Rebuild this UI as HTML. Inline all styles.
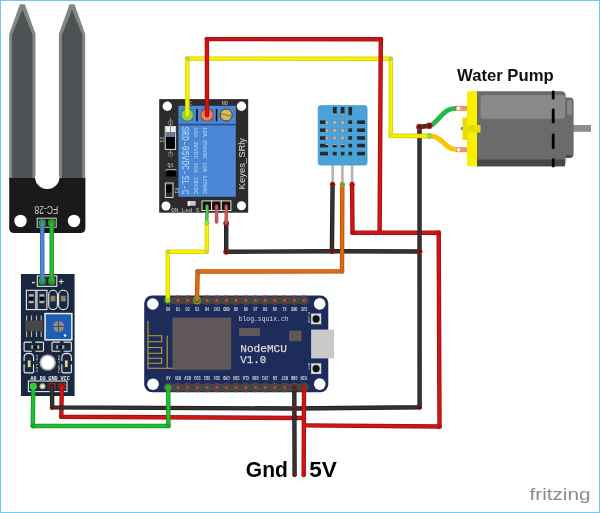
<!DOCTYPE html>
<html><head><meta charset="utf-8">
<style>
html,body{margin:0;padding:0;background:#fff;}
body{width:600px;height:513px;overflow:hidden;position:relative;}
svg{position:absolute;left:0;top:0;display:block;will-change:transform;}
text{font-family:"Liberation Sans",sans-serif;}
.mono,.mono text{font-family:"Liberation Mono",monospace;}
</style></head>
<body>
<svg width="600" height="513" viewBox="0 0 600 513">
<rect x="0" y="0" width="600" height="513" fill="#fff"/>

<!-- ===== Soil moisture probe FC-28 ===== -->
<g id="probe">
  <polygon points="9.2,180 9.2,34 19.9,4.2 24.9,4.2 35.5,34 35.5,180" fill="#7f8780"/>
  <polygon points="12,180 12,35 22.4,9.5 32.5,35 32.5,180" fill="#4d5355"/>
  <polygon points="58.9,180 58.9,34 69.5,4.2 74.5,4.2 85.2,34 85.2,180" fill="#7f8780"/>
  <polygon points="62,180 62,35 72,9.5 82.2,35 82.2,180" fill="#4d5355"/>
  <path d="M9.2,178 H85.4 V228 Q85.4,233 80.4,233 H14.2 Q9.2,233 9.2,228 Z" fill="#1a1a1a"/>
  <path d="M35,176 V177 A12.25,12 0 0 0 59.5,177 V176 Z" fill="#fff"/>
  <circle cx="20.5" cy="221" r="6.2" fill="#fff"/>
  <circle cx="74" cy="221" r="6.2" fill="#fff"/>
  <rect x="37.2" y="218.2" width="19" height="9" fill="none" stroke="#d8d8d8" stroke-width="1"/>
  <text x="46.35" y="213" font-size="10" fill="#d0d0d0" text-anchor="middle" textLength="23.8" lengthAdjust="spacingAndGlyphs" transform="rotate(180 46.35 209.4)">FC-28</text>
</g>


<!-- ===== Sensor module ===== -->
<g id="module">
  <rect x="20.9" y="274" width="53.7" height="122" fill="#19283f"/>
  <rect x="37.3" y="275.9" width="19.5" height="10.4" fill="none" stroke="#e8e8e8" stroke-width="1.1"/>
  <text x="33.4" y="284.5" font-size="10" fill="#e8e8e8" text-anchor="middle" font-weight="bold">-</text>
  <text x="61.2" y="284.8" font-size="9.5" fill="#e8e8e8" text-anchor="middle" font-weight="bold">+</text>
  <g fill="none" stroke="#e8e8e8" stroke-width="1.1">
    <rect x="26.4" y="290.3" width="9.4" height="19.3"/>
    <rect x="37" y="290.3" width="9.9" height="19.3"/>
    <rect x="48.7" y="290.3" width="8.7" height="19.3" rx="4.3"/>
    <rect x="58.6" y="290.3" width="9.4" height="19.3" rx="4.5"/>
  </g>
  <rect x="28.8" y="294.2" width="5" height="9" fill="#b0b0b0"/>
  <rect x="28.8" y="296.7" width="5" height="4" fill="#000"/>
  <rect x="39.4" y="294.2" width="5" height="9" fill="#b0b0b0"/>
  <rect x="39.4" y="296.7" width="5" height="4" fill="#000"/>
  <rect x="50.4" y="295.8" width="5" height="5.6" fill="#8e8060"/>
  <rect x="60.8" y="295.8" width="5" height="5.6" fill="#8e8060"/>
  <g stroke="#b8b8b8" stroke-width="1.1">
    <path d="M26.6,315.4 V320.7 M31.5,315.4 V320.7 M36.5,315.4 V320.7 M41.2,315.4 V320.7 M26.6,331.2 V337 M31.5,331.2 V337 M36.5,331.2 V337 M41.2,331.2 V337"/>
  </g>
  <rect x="25.3" y="320.7" width="17.5" height="10.5" fill="#474747"/>
  <rect x="44.3" y="312.8" width="28.3" height="27.8" fill="#f0f0f0"/>
  <rect x="45.8" y="314.3" width="25.3" height="24.8" fill="#1f5cb4"/>
  <circle cx="58.6" cy="326.5" r="5.6" fill="#8c8c8c"/>
  <path d="M53,326.5 H64.2 M58.6,320.9 V332.1" stroke="#4a4a4a" stroke-width="1"/>
  <circle cx="65" cy="335.5" r="1.2" fill="#fff"/>
  <g fill="none" stroke="#e8e8e8" stroke-width="1.1">
    <path d="M31.9,342.1 H25.1 Q24.1,342.1 24.1,343.1 V350.3 Q24.1,351.3 25.1,351.3 H31.9"/>
    <path d="M35.4,342.1 H42.5 Q43.5,342.1 43.5,343.1 V350.3 Q43.5,351.3 42.5,351.3 H35.4"/>
    <path d="M63.6,342.1 H70.4 Q71.4,342.1 71.4,343.1 V350.3 Q71.4,351.3 70.4,351.3 H63.6"/>
    <path d="M60.1,342.1 H53 Q52,342.1 52,343.1 V350.3 Q52,351.3 53,351.3 H60.1"/>
    <path d="M24.1,361.1 V357.4 Q24.1,353.4 28.85,353.4 Q33.6,353.4 33.6,357.4 V361.1"/>
    <path d="M24.1,364.3 V371.6 Q24.1,372.9 25.4,372.9 H32.3 Q33.6,372.9 33.6,371.6 V364.3"/>
    <path d="M61.9,361.1 V357.4 Q61.9,353.4 66.65,353.4 Q71.4,353.4 71.4,357.4 V361.1"/>
    <path d="M61.9,364.3 V371.6 Q61.9,372.9 63.2,372.9 H70.1 Q71.4,372.9 71.4,371.6 V364.3"/>
  </g>
  <rect x="31.2" y="345.3" width="8.1" height="3.5" fill="#a8a8a8"/>
  <rect x="33.3" y="345.3" width="3.8" height="3.5" fill="#000"/>
  <rect x="56.2" y="345.3" width="8.1" height="3.5" fill="#a8a8a8"/>
  <rect x="58.3" y="345.3" width="3.8" height="3.5" fill="#000"/>
  <rect x="27.8" y="360.4" width="2.8" height="6.7" fill="#e0d49a"/>
  <rect x="64.9" y="360.4" width="2.8" height="6.7" fill="#e0d49a"/>
  <text transform="translate(35.8,354.5) rotate(90)" font-size="4.2" fill="#c8c8d0" class="mono" textLength="18" lengthAdjust="spacingAndGlyphs">D0-LED</text>
  <text transform="translate(59.8,373) rotate(-90)" font-size="4.2" fill="#c8c8d0" class="mono" textLength="18" lengthAdjust="spacingAndGlyphs">PWR-LED</text>
  <circle cx="47.7" cy="362.6" r="8.2" fill="#b4b4b4"/>
  <circle cx="47.7" cy="362.6" r="6.5" fill="#fff"/>
  <g font-size="5" fill="#f0f0f0" text-anchor="middle" class="mono" font-weight="bold">
    <text x="33.5" y="379.6" textLength="6" lengthAdjust="spacingAndGlyphs">A0</text>
    <text x="42.8" y="379.6" textLength="6" lengthAdjust="spacingAndGlyphs">D0</text>
    <text x="53" y="379.6" textLength="9.5" lengthAdjust="spacingAndGlyphs">GND</text>
    <text x="65.2" y="379.6" textLength="9.5" lengthAdjust="spacingAndGlyphs">VCC</text>
  </g>
  <rect x="28.4" y="381" width="38.6" height="10.6" fill="none" stroke="#e8e8e8" stroke-width="1.1"/>
  <rect x="30" y="383.2" width="6.5" height="6" rx="1.2" fill="#30c040"/>
  <circle cx="42.5" cy="386.3" r="3" fill="#c8b070"/>
  <circle cx="42.5" cy="386.3" r="1.5" fill="#fff"/>
  <rect x="48.9" y="383.2" width="6.6" height="6" rx="1.2" fill="#d03020"/>
  <rect x="58.6" y="383.2" width="6.8" height="6" rx="1.2" fill="#d03020"/>
  <circle cx="52.2" cy="386.3" r="2.6" fill="none" stroke="#801010" stroke-width="1"/>
  <circle cx="62" cy="386.3" r="2.6" fill="none" stroke="#801010" stroke-width="1"/>
</g>


<!-- ===== Relay ===== -->
<g id="relay">
  <rect x="159.2" y="99.1" width="89" height="113.6" fill="#2c2c2c"/>
  <circle cx="167.3" cy="106.2" r="4.7" fill="#fff"/>
  <circle cx="241.5" cy="106.3" r="4.7" fill="#fff"/>
  <circle cx="166" cy="206" r="4.5" fill="#fff"/>
  <circle cx="241.5" cy="205.8" r="4.5" fill="#fff"/>
  <rect x="178.4" y="105.8" width="57.4" height="91" fill="#4a88d6"/>
  <rect x="178.4" y="123.8" width="57.4" height="1.6" fill="#2a4e86"/>
  <rect x="181.8" y="109.5" width="11" height="11" fill="#2a8a3a"/>
  <circle cx="187.3" cy="115" r="6.1" fill="#90d050" stroke="#3c6a2c" stroke-width="0.6"/>
  <rect x="201.5" y="109.5" width="11" height="11" fill="#a83040"/>
  <circle cx="207" cy="115" r="6.1" fill="#f08050" stroke="#8a3020" stroke-width="0.6"/>
  <circle cx="226.2" cy="115" r="6" fill="#d8b860" stroke="#3a3020" stroke-width="0.9"/>
  <path d="M220.8,113.6 L231.6,116.2" stroke="#a08030" stroke-width="1.4"/>
  <rect x="196.2" y="109" width="1.5" height="12.3" fill="#000"/>
  <rect x="215.8" y="109" width="1.5" height="12.3" fill="#000"/>
  <text x="224.8" y="104.6" font-size="5.2" fill="#c8c8c8" text-anchor="middle" class="mono">NO</text>
  <text x="190.5" y="104.6" font-size="5.2" fill="#c8c8c8" text-anchor="middle" class="mono">C</text>
  <g fill="#c4d8f4" class="mono">
    <text transform="translate(181,126.2) rotate(90)" font-size="10" textLength="68.5" lengthAdjust="spacingAndGlyphs" y="0" x="0" dy="-0.5">SRD-05VDC-SL-C</text>
  </g>
  <g fill="#c8dcf4" class="mono" font-size="6">
    <text transform="translate(193.6,127) rotate(90)" textLength="67.5" lengthAdjust="spacingAndGlyphs">10A  30VDC  10A  28VDC</text>
    <text transform="translate(203,127) rotate(90)" textLength="67.5" lengthAdjust="spacingAndGlyphs">10A 250VAC 10A 125VAC</text>
  </g>
  <text transform="translate(245.2,189.4) rotate(-90)" font-size="9.6" fill="#d8d8d8" textLength="51.5" lengthAdjust="spacingAndGlyphs">Keyes_SRly</text>
  <rect x="165.2" y="126.5" width="10.4" height="23" fill="none" stroke="#d8d8d8" stroke-width="1"/>
  <rect x="165.7" y="127" width="9.4" height="5.5" fill="#f0f0f0"/><rect x="170" y="127" width="1" height="5.5" fill="#888"/><rect x="166" y="132" width="8.8" height="16.5" fill="#000"/>
  <rect x="166" y="132" width="8.8" height="5" fill="#6a7898"/>
  <circle cx="170.5" cy="122.8" r="2.3" fill="none" stroke="#888" stroke-width="0.8"/>
  <circle cx="170.5" cy="154.3" r="2.3" fill="none" stroke="#888" stroke-width="0.8"/>
  <rect x="170" y="118" width="1" height="8.5" fill="#888"/>
  <rect x="170" y="149.5" width="1" height="5" fill="#888"/>
  <text transform="translate(160.3,136.5) rotate(90)" font-size="5" fill="#c8c8c8" class="mono">D1</text>
  <text x="170.5" y="166.5" font-size="5" fill="#c8c8c8" text-anchor="middle" class="mono">Q1</text>
  <rect x="166" y="171" width="10" height="5.5" fill="#000"/>
  <path d="M166,171 v-1.5 h10 v1.5" fill="none" stroke="#ccc" stroke-width="0.7"/>
  <rect x="165.3" y="183" width="7.7" height="14.5" fill="none" stroke="#d8d8d8" stroke-width="1"/>
  <rect x="166.5" y="185" width="5.3" height="7.5" fill="#000"/>
  <text transform="translate(175,188) rotate(90)" font-size="4.5" fill="#c8c8c8" class="mono">R1</text>
  <rect x="187.7" y="201" width="8" height="4.7" fill="#c8c8c8"/>
  <rect x="187.7" y="201" width="2.5" height="4.7" fill="#eee"/>
  <text x="171.3" y="211.6" font-size="6" fill="#c8c8c8" class="mono" textLength="28" lengthAdjust="spacingAndGlyphs">ON_Led S</text>
  <g fill="#111" stroke="#e8e8e8" stroke-width="1">
    <rect x="202" y="200.9" width="9.6" height="9.6"/>
    <rect x="211.6" y="200.9" width="9.6" height="9.6"/>
    <rect x="221.3" y="200.9" width="9.6" height="9.6"/>
  </g>
</g>

<!-- ===== DHT11 ===== -->
<g id="dht">
  <rect x="331.4" y="164" width="2.6" height="21" fill="#b4b4b4"/>
  <rect x="341.1" y="164" width="2.6" height="21" fill="#b4b4b4"/>
  <rect x="350.8" y="164" width="2.6" height="21" fill="#b4b4b4"/>
  <rect x="318.2" y="105.6" width="48.9" height="59.5" rx="2.5" fill="#49a3d9" stroke="#3a88b8" stroke-width="0.6"/>
  <g fill="#2a2a2a">
    <rect x="333" y="107" width="3.7" height="8.2"/><rect x="340.8" y="107" width="3.7" height="8.2"/><rect x="348.4" y="107" width="3.7" height="8.2"/>
  </g>
  <g fill="#2a2a2a" id="dhtrows">
    <rect x="320" y="120.4" width="8" height="3.6"/><rect x="332.8" y="120.4" width="3.9" height="3.6"/><rect x="340.8" y="120.4" width="3.7" height="3.6"/><rect x="348.4" y="120.4" width="3.7" height="3.6"/><rect x="357" y="120.4" width="8" height="3.6"/>
    <rect x="320" y="128.4" width="8" height="3.6"/><rect x="332.8" y="128.4" width="3.9" height="3.6"/><rect x="340.8" y="128.4" width="3.7" height="3.6"/><rect x="348.4" y="128.4" width="3.7" height="3.6"/><rect x="357" y="128.4" width="8" height="3.6"/>
    <rect x="320" y="136.2" width="8" height="3.6"/><rect x="332.8" y="136.2" width="3.9" height="3.6"/><rect x="340.8" y="136.2" width="3.7" height="3.6"/><rect x="348.4" y="136.2" width="3.7" height="3.6"/><rect x="357" y="136.2" width="8" height="3.6"/>
    <rect x="320" y="143.8" width="8" height="3.6"/><rect x="332.8" y="143.8" width="3.9" height="3.6"/><rect x="340.8" y="143.8" width="3.7" height="3.6"/><rect x="348.4" y="143.8" width="3.7" height="3.6"/><rect x="357" y="143.8" width="8" height="3.6"/>
    <rect x="320" y="151.8" width="8" height="3.6"/><rect x="332.8" y="151.8" width="3.9" height="3.6"/><rect x="340.8" y="151.8" width="3.7" height="3.6"/><rect x="348.4" y="151.8" width="3.7" height="3.6"/><rect x="357" y="151.8" width="8" height="3.6"/>
  </g>
  <g fill="#b0b0b0">
    <rect x="325.5" y="120.4" width="2.5" height="3.6"/><rect x="332.8" y="120.4" width="3.9" height="3.6"/><rect x="340.8" y="120.4" width="3.7" height="3.6"/>
    <rect x="325.5" y="128.4" width="2.5" height="3.6"/><rect x="332.8" y="128.4" width="3.9" height="3.6"/><rect x="340.8" y="128.4" width="3.7" height="3.6"/>
    <rect x="325.5" y="136.2" width="2.5" height="3.6"/><rect x="332.8" y="136.2" width="3.9" height="3.6"/><rect x="340.8" y="136.2" width="3.7" height="3.6"/>
    <rect x="325.5" y="143.8" width="2.5" height="1.2"/><rect x="332.8" y="143.8" width="3.9" height="1.2"/><rect x="340.8" y="143.8" width="3.7" height="1.2"/>
    <rect x="333" y="113.6" width="3.7" height="1.6"/><rect x="340.8" y="113.6" width="3.7" height="1.6"/>
  </g>
</g>


<!-- ===== NodeMCU ===== -->
<g id="nodemcu">
  <rect x="144.2" y="295.5" width="184.1" height="96.8" rx="8" fill="#1d2c5b"/>
  <circle cx="152.8" cy="304" r="5.8" fill="#fff"/>
  <circle cx="153" cy="384.2" r="5.8" fill="#fff"/>
  <circle cx="319.7" cy="303.9" r="5.8" fill="#fff"/>
  <circle cx="319.7" cy="384.1" r="5.8" fill="#fff"/>
  <g fill="#474747"><rect x="166.30" y="296.79999999999995" width="139.66" height="7.2" fill="#474747"/><circle cx="168.30" cy="300.4" r="4.8"/><circle cx="177.99" cy="300.4" r="4.8"/><circle cx="187.68" cy="300.4" r="4.8"/><circle cx="197.37" cy="300.4" r="4.8"/><circle cx="207.06" cy="300.4" r="4.8"/><circle cx="216.75" cy="300.4" r="4.8"/><circle cx="226.44" cy="300.4" r="4.8"/><circle cx="236.13" cy="300.4" r="4.8"/><circle cx="245.82" cy="300.4" r="4.8"/><circle cx="255.51" cy="300.4" r="4.8"/><circle cx="265.20" cy="300.4" r="4.8"/><circle cx="274.89" cy="300.4" r="4.8"/><circle cx="284.58" cy="300.4" r="4.8"/><circle cx="294.27" cy="300.4" r="4.8"/><circle cx="303.96" cy="300.4" r="4.8"/><rect x="166.30" y="383.9" width="139.66" height="7.2" fill="#474747"/><circle cx="168.30" cy="387.5" r="4.8"/><circle cx="177.99" cy="387.5" r="4.8"/><circle cx="187.68" cy="387.5" r="4.8"/><circle cx="197.37" cy="387.5" r="4.8"/><circle cx="207.06" cy="387.5" r="4.8"/><circle cx="216.75" cy="387.5" r="4.8"/><circle cx="226.44" cy="387.5" r="4.8"/><circle cx="236.13" cy="387.5" r="4.8"/><circle cx="245.82" cy="387.5" r="4.8"/><circle cx="255.51" cy="387.5" r="4.8"/><circle cx="265.20" cy="387.5" r="4.8"/><circle cx="274.89" cy="387.5" r="4.8"/><circle cx="284.58" cy="387.5" r="4.8"/><circle cx="294.27" cy="387.5" r="4.8"/><circle cx="303.96" cy="387.5" r="4.8"/></g>
  <g fill="#e8401e"><rect x="167.00" y="299.09999999999997" width="2.6" height="2.6" rx="0.5"/><rect x="176.69" y="299.09999999999997" width="2.6" height="2.6" rx="0.5"/><rect x="186.38" y="299.09999999999997" width="2.6" height="2.6" rx="0.5"/><rect x="196.07" y="299.09999999999997" width="2.6" height="2.6" rx="0.5"/><rect x="205.76" y="299.09999999999997" width="2.6" height="2.6" rx="0.5"/><rect x="215.45" y="299.09999999999997" width="2.6" height="2.6" rx="0.5"/><rect x="225.14" y="299.09999999999997" width="2.6" height="2.6" rx="0.5"/><rect x="234.83" y="299.09999999999997" width="2.6" height="2.6" rx="0.5"/><rect x="244.52" y="299.09999999999997" width="2.6" height="2.6" rx="0.5"/><rect x="254.21" y="299.09999999999997" width="2.6" height="2.6" rx="0.5"/><rect x="263.90" y="299.09999999999997" width="2.6" height="2.6" rx="0.5"/><rect x="273.59" y="299.09999999999997" width="2.6" height="2.6" rx="0.5"/><rect x="283.28" y="299.09999999999997" width="2.6" height="2.6" rx="0.5"/><rect x="292.97" y="299.09999999999997" width="2.6" height="2.6" rx="0.5"/><rect x="302.66" y="299.09999999999997" width="2.6" height="2.6" rx="0.5"/><rect x="167.00" y="386.2" width="2.6" height="2.6" rx="0.5"/><rect x="176.69" y="386.2" width="2.6" height="2.6" rx="0.5"/><rect x="186.38" y="386.2" width="2.6" height="2.6" rx="0.5"/><rect x="196.07" y="386.2" width="2.6" height="2.6" rx="0.5"/><rect x="205.76" y="386.2" width="2.6" height="2.6" rx="0.5"/><rect x="215.45" y="386.2" width="2.6" height="2.6" rx="0.5"/><rect x="225.14" y="386.2" width="2.6" height="2.6" rx="0.5"/><rect x="234.83" y="386.2" width="2.6" height="2.6" rx="0.5"/><rect x="244.52" y="386.2" width="2.6" height="2.6" rx="0.5"/><rect x="254.21" y="386.2" width="2.6" height="2.6" rx="0.5"/><rect x="263.90" y="386.2" width="2.6" height="2.6" rx="0.5"/><rect x="273.59" y="386.2" width="2.6" height="2.6" rx="0.5"/><rect x="283.28" y="386.2" width="2.6" height="2.6" rx="0.5"/><rect x="292.97" y="386.2" width="2.6" height="2.6" rx="0.5"/><rect x="302.66" y="386.2" width="2.6" height="2.6" rx="0.5"/></g>
  <g fill="#d0d2e0" font-size="4.6" text-anchor="middle" class="mono" font-weight="bold"><text x="168.30" y="310.8" textLength="4.2" lengthAdjust="spacingAndGlyphs">D0</text><text x="177.99" y="310.8" textLength="4.2" lengthAdjust="spacingAndGlyphs">D1</text><text x="187.68" y="310.8" textLength="4.2" lengthAdjust="spacingAndGlyphs">D2</text><text x="197.37" y="310.8" textLength="4.2" lengthAdjust="spacingAndGlyphs">D3</text><text x="207.06" y="310.8" textLength="4.2" lengthAdjust="spacingAndGlyphs">D4</text><text x="216.75" y="310.8" textLength="6.6" lengthAdjust="spacingAndGlyphs">3V3</text><text x="226.44" y="310.8" textLength="6.6" lengthAdjust="spacingAndGlyphs">GND</text><text x="236.13" y="310.8" textLength="4.2" lengthAdjust="spacingAndGlyphs">D5</text><text x="245.82" y="310.8" textLength="4.2" lengthAdjust="spacingAndGlyphs">D6</text><text x="255.51" y="310.8" textLength="4.2" lengthAdjust="spacingAndGlyphs">D7</text><text x="265.20" y="310.8" textLength="4.2" lengthAdjust="spacingAndGlyphs">D8</text><text x="274.89" y="310.8" textLength="4.2" lengthAdjust="spacingAndGlyphs">RX</text><text x="284.58" y="310.8" textLength="4.2" lengthAdjust="spacingAndGlyphs">TX</text><text x="294.27" y="310.8" textLength="6.6" lengthAdjust="spacingAndGlyphs">GND</text><text x="303.96" y="310.8" textLength="6.6" lengthAdjust="spacingAndGlyphs">3V3</text><text transform="rotate(180 168.30 378.3)" x="168.30" y="380.4" textLength="4.2" lengthAdjust="spacingAndGlyphs">A0</text><text transform="rotate(180 177.99 378.3)" x="177.99" y="380.4" textLength="6.6" lengthAdjust="spacingAndGlyphs">RSV</text><text transform="rotate(180 187.68 378.3)" x="187.68" y="380.4" textLength="6.6" lengthAdjust="spacingAndGlyphs">RSV</text><text transform="rotate(180 197.37 378.3)" x="197.37" y="380.4" textLength="6.6" lengthAdjust="spacingAndGlyphs">SD3</text><text transform="rotate(180 207.06 378.3)" x="207.06" y="380.4" textLength="6.6" lengthAdjust="spacingAndGlyphs">SD2</text><text transform="rotate(180 216.75 378.3)" x="216.75" y="380.4" textLength="6.6" lengthAdjust="spacingAndGlyphs">SD1</text><text transform="rotate(180 226.44 378.3)" x="226.44" y="380.4" textLength="6.6" lengthAdjust="spacingAndGlyphs">CMD</text><text transform="rotate(180 236.13 378.3)" x="236.13" y="380.4" textLength="6.6" lengthAdjust="spacingAndGlyphs">SD0</text><text transform="rotate(180 245.82 378.3)" x="245.82" y="380.4" textLength="6.6" lengthAdjust="spacingAndGlyphs">CLK</text><text transform="rotate(180 255.51 378.3)" x="255.51" y="380.4" textLength="6.6" lengthAdjust="spacingAndGlyphs">GND</text><text transform="rotate(180 265.20 378.3)" x="265.20" y="380.4" textLength="6.6" lengthAdjust="spacingAndGlyphs">3V3</text><text transform="rotate(180 274.89 378.3)" x="274.89" y="380.4" textLength="4.2" lengthAdjust="spacingAndGlyphs">EN</text><text transform="rotate(180 284.58 378.3)" x="284.58" y="380.4" textLength="6.6" lengthAdjust="spacingAndGlyphs">RST</text><text transform="rotate(180 294.27 378.3)" x="294.27" y="380.4" textLength="6.6" lengthAdjust="spacingAndGlyphs">GND</text><text transform="rotate(180 303.96 378.3)" x="303.96" y="380.4" textLength="6.6" lengthAdjust="spacingAndGlyphs">VIN</text></g>
  <rect x="172.5" y="317.5" width="58.7" height="52.2" fill="#605759"/>
  <path d="M148,320.8 V368.3 H173.3 M148,335.8 H161.7 V341.7 H148 M148,347.5 H161.7 V353.3 H148 M148,358.3 H161.7 V363.3 H148 M167.2,335.8 V368.3" fill="none" stroke="#c9a030" stroke-width="1.1"/>
  <rect x="239" y="328" width="21" height="7.9" fill="#605759"/>
  <rect x="289" y="330.7" width="12.5" height="10.5" fill="#605759"/>
  <text x="238.6" y="320.8" font-size="6.4" fill="#d8d8d8" class="mono" textLength="50" lengthAdjust="spacingAndGlyphs">blog.squix.ch</text>
  <text x="240.3" y="351.6" font-size="11.8" fill="#dcdcdc" stroke="#dcdcdc" stroke-width="0.25" class="mono" textLength="46.6" lengthAdjust="spacingAndGlyphs">NodeMCU</text>
  <text x="240.3" y="362.7" font-size="11.8" fill="#dcdcdc" stroke="#dcdcdc" stroke-width="0.25" class="mono" textLength="26" lengthAdjust="spacingAndGlyphs">V1.0</text>
  <rect x="311.1" y="313.5" width="10.1" height="10.8" fill="#d8d8d8"/>
  <circle cx="316.1" cy="318.9" r="3.6" fill="#111"/>
  <rect x="311.1" y="363.3" width="10.1" height="10.7" fill="#d8d8d8"/>
  <circle cx="316.1" cy="368.6" r="3.6" fill="#111"/>
  <text transform="translate(307.5,312) rotate(90)" font-size="3.8" fill="#c8cad8" class="mono">FLASH</text>
  <text transform="translate(307.5,363) rotate(90)" font-size="3.8" fill="#c8cad8" class="mono">RST</text>
  <rect x="311.1" y="329.6" width="22.9" height="28.8" fill="#c9c9c9"/>
</g>

<!-- ===== Pump ===== -->
<g id="pump">
  <rect x="573" y="125" width="18" height="6.8" fill="#8c8c8c"/>
  <path d="M477,91.2 H561 Q565.6,91.2 565.6,95 L565.6,97.4 H570 Q573.6,97.4 573.6,101.4 V154 Q573.6,157.8 570,157.8 H565.6 V162 Q565.6,166.3 561,166.3 H477 Z" fill="#6b6b6b"/><path d="M565.6,155 H573 Q572.5,157.8 570,157.8 H565.6 Z" fill="#4b4749"/>
  <rect x="477" y="159.5" width="88" height="6.8" fill="#4b4749"/>
  <rect x="480.5" y="95" width="84.5" height="23.8" rx="3" fill="#898989"/>
  <rect x="567.3" y="100" width="4.7" height="15" rx="2" fill="#898989"/>
  <path d="M553.2,92 V98.2 M553.2,110 V122 M553.2,134.8 V147.7 M553.2,159.7 V166" stroke="#000" stroke-width="2.8" stroke-linecap="round"/>
  <rect x="467" y="91.2" width="10" height="75.1" fill="#f8f000"/>
  <rect x="462.5" y="117.5" width="5" height="22.5" fill="#e8dc00"/>
  <rect x="467" y="125" width="13.5" height="7.5" fill="#e8dc00"/>
  <rect x="460.8" y="127" width="2" height="3" fill="#888"/>
  <rect x="455.5" y="105.8" width="11.5" height="5" fill="#f0906c"/>
  <circle cx="458.4" cy="108.3" r="1.7" fill="#fff"/>
  <rect x="455.5" y="147.2" width="11.5" height="5" fill="#f0906c"/>
  <circle cx="458.4" cy="149.7" r="1.7" fill="#fff"/>
</g>

<text x="457" y="80.7" font-size="16.4" font-weight="bold" fill="#111" textLength="96.7" lengthAdjust="spacingAndGlyphs">Water Pump</text>
<text x="245.8" y="476.8" font-size="21.8" font-weight="bold" fill="#000" textLength="42" lengthAdjust="spacingAndGlyphs">Gnd</text>
<text x="309.2" y="476.8" font-size="21.8" font-weight="bold" fill="#000" textLength="27.7" lengthAdjust="spacingAndGlyphs">5V</text>
<text x="529.5" y="500" font-size="16.5" fill="#8c8c8c" textLength="61" lengthAdjust="spacingAndGlyphs">fritzing</text>

<!-- ===== Wires ===== -->
<g id="wires" fill="none" stroke-linecap="round" stroke-linejoin="round">
<path d="M187.3,115 L187.3,58.6 L390.8,58.8 L390.8,135.9 L429.5,136" stroke="#d4cf00" stroke-width="4.4"/><path d="M187.3,115 L187.3,58.6 L390.8,58.8 L390.8,135.9 L429.5,136" stroke="#f6f200" stroke-width="2.9000000000000004"/><circle cx="187.3" cy="58.6" r="2.4000000000000004" fill="#c8c840" stroke="none"/><circle cx="390.8" cy="58.8" r="2.4000000000000004" fill="#c8c840" stroke="none"/><circle cx="390.8" cy="135.9" r="2.4000000000000004" fill="#c8c840" stroke="none"/>
<circle cx="429.5" cy="136" r="2.4" fill="#aadd33" stroke="#88cc44" stroke-width="1.1"/>
<path d="M431.5,125.5 C442,117 444,108.3 456,108.3" stroke="#22b844" stroke-width="4.8" stroke-linecap="butt"/>
<path d="M431.5,136 C443,137 445,149.6 456,149.6" stroke="#f8c400" stroke-width="4.8" stroke-linecap="butt"/>
<path d="M207,115 L206.9,39.1 L380.8,39.2 L379.6,232.7" stroke="#9a0d0d" stroke-width="4.4"/><path d="M207,115 L206.9,39.1 L380.8,39.2 L379.6,232.7" stroke="#d01515" stroke-width="2.9000000000000004"/><circle cx="206.9" cy="39.1" r="2.4000000000000004" fill="#b81010" stroke="none"/><circle cx="380.8" cy="39.2" r="2.4000000000000004" fill="#b81010" stroke="none"/>
<path d="M352.1,184.4 L352.5,232.7 L438.7,232.7 L439.5,426.5 L304,425.4" stroke="#9a0d0d" stroke-width="4.4"/><path d="M352.1,184.4 L352.5,232.7 L438.7,232.7 L439.5,426.5 L304,425.4" stroke="#d01515" stroke-width="2.9000000000000004"/><circle cx="352.5" cy="232.7" r="2.4000000000000004" fill="#b81010" stroke="none"/><circle cx="438.7" cy="232.7" r="2.4000000000000004" fill="#b81010" stroke="none"/><circle cx="439.5" cy="426.5" r="2.4000000000000004" fill="#b81010" stroke="none"/>
<circle cx="352.1" cy="184.4" r="2.2" fill="#c01010" stroke="#b01010" stroke-width="1"/>
<path d="M61.8,386.3 L61.3,416.8 L304,418" stroke="#9a0d0d" stroke-width="4.4"/><path d="M61.8,386.3 L61.3,416.8 L304,418" stroke="#d01515" stroke-width="2.9000000000000004"/><circle cx="61.3" cy="416.8" r="2.4000000000000004" fill="#b81010" stroke="none"/>
<path d="M429.3,125.8 L419.5,127 L419.6,407.2 L293.8,408.5 L52.2,407.4 L52,386.3" stroke="#1a1a1a" stroke-width="4.4"/><path d="M429.3,125.8 L419.5,127 L419.6,407.2 L293.8,408.5 L52.2,407.4 L52,386.3" stroke="#333333" stroke-width="2.9000000000000004"/><circle cx="419.5" cy="127" r="2.4000000000000004" fill="#222" stroke="none"/><circle cx="419.6" cy="407.2" r="2.4000000000000004" fill="#222" stroke="none"/><circle cx="293.8" cy="408.5" r="2.4000000000000004" fill="#222" stroke="none"/><circle cx="52.2" cy="407.4" r="2.4000000000000004" fill="#222" stroke="none"/>
<circle cx="419.5" cy="127" r="2.7" fill="#5a1414" stroke="#b02020" stroke-width="1.2"/><circle cx="429.3" cy="125.8" r="2.7" fill="#5a1414" stroke="#b02020" stroke-width="1.2"/>
<circle cx="419.6" cy="407.2" r="1.8" fill="none" stroke="#901818" stroke-width="1"/><circle cx="52.2" cy="407.4" r="1.8" fill="none" stroke="#901818" stroke-width="1"/>
<path d="M390.8,135.9 L429.5,136" stroke="#d4cf00" stroke-width="4.4"/><path d="M390.8,135.9 L429.5,136" stroke="#f6f200" stroke-width="2.9000000000000004"/>
<circle cx="429.5" cy="136" r="2.2" fill="#aadd33" stroke="#88cc44" stroke-width="0.8"/>
<path d="M226.2,223.2 L226.2,251.8 L331.9,251.2 L419.7,251.5" stroke="#1a1a1a" stroke-width="4.4"/><path d="M226.2,223.2 L226.2,251.8 L331.9,251.2 L419.7,251.5" stroke="#333333" stroke-width="2.9000000000000004"/><circle cx="226.2" cy="251.8" r="2.4000000000000004" fill="#222" stroke="none"/><circle cx="331.9" cy="251.2" r="2.4000000000000004" fill="#222" stroke="none"/>
<path d="M332.6,184.4 L331.9,251.2" stroke="#1a1a1a" stroke-width="4.4"/><path d="M332.6,184.4 L331.9,251.2" stroke="#333333" stroke-width="2.9000000000000004"/>
<circle cx="226.2" cy="223.2" r="2.3" fill="#6a1212" stroke="#9a1818" stroke-width="1.1"/><circle cx="226.2" cy="251.8" r="2.3" fill="#5a1212" stroke="#9a1818" stroke-width="1.1"/><circle cx="331.9" cy="251.2" r="2.2" fill="#5a1212" stroke="#9a1818" stroke-width="1.1"/><circle cx="419.7" cy="251.5" r="2.2" fill="#5a1212" stroke="#9a1818" stroke-width="1.1"/><circle cx="332.6" cy="184.4" r="2.2" fill="#801010" stroke="#9a1818" stroke-width="1"/>
<path d="M342.3,184.4 L342,271.4 L197.6,271.5 L197,300.4" stroke="#b04c05" stroke-width="4.4"/><path d="M342.3,184.4 L342,271.4 L197.6,271.5 L197,300.4" stroke="#e8680a" stroke-width="2.9000000000000004"/><circle cx="342" cy="271.4" r="2.4000000000000004" fill="#b86838" stroke="none"/><circle cx="197.6" cy="271.5" r="2.4000000000000004" fill="#b86838" stroke="none"/>
<circle cx="342.3" cy="184.4" r="2.2" fill="#aa8822" stroke="#66bb44" stroke-width="1"/>
<circle cx="197" cy="300.4" r="3.2" fill="none" stroke="#55bb33" stroke-width="1.2"/>
<path d="M207,206 L206.8,223.2" stroke="#3a9a3a" stroke-width="3.4"/><path d="M207,206 L206.8,223.2" stroke="#5cc05c" stroke-width="2"/>
<path d="M216.6,206 L216.6,222" stroke="#b04848" stroke-width="3.4"/><path d="M216.6,206 L216.6,222" stroke="#c86060" stroke-width="2"/>
<path d="M226.2,206 L226.2,223" stroke="#b04848" stroke-width="3.4"/><path d="M226.2,206 L226.2,223" stroke="#c86060" stroke-width="2"/>
<path d="M206.8,223.2 L206.8,251.8 L167.8,251.8 L167.8,300.4" stroke="#d4cf00" stroke-width="4.4"/><path d="M206.8,223.2 L206.8,251.8 L167.8,251.8 L167.8,300.4" stroke="#f6f200" stroke-width="2.9000000000000004"/><circle cx="206.8" cy="251.8" r="2.4000000000000004" fill="#d0d040" stroke="none"/><circle cx="167.8" cy="251.8" r="2.4000000000000004" fill="#d0d040" stroke="none"/>
<circle cx="206.8" cy="223.2" r="2.2" fill="#aadd33" stroke="#88cc44" stroke-width="0.8"/>
<circle cx="167.8" cy="300.4" r="2.3" fill="#8ae418" stroke="#77d818" stroke-width="0.6"/>
<path d="M294.3,387.5 L294.6,474.8" stroke="#1a1a1a" stroke-width="4.4"/><path d="M294.3,387.5 L294.6,474.8" stroke="#333333" stroke-width="2.9000000000000004"/>
<circle cx="294.3" cy="387.5" r="2.4" fill="none" stroke="#901818" stroke-width="1.1"/><circle cx="294.6" cy="474.8" r="1.8" fill="none" stroke="#901818" stroke-width="1"/><circle cx="293.9" cy="408.5" r="2.2" fill="none" stroke="#901818" stroke-width="1.1"/>
<path d="M304,387.5 L303.7,474.8" stroke="#9a0d0d" stroke-width="4.4"/><path d="M304,387.5 L303.7,474.8" stroke="#d01515" stroke-width="2.9000000000000004"/>
<circle cx="303.7" cy="474.8" r="1.8" fill="none" stroke="#b01010" stroke-width="1"/>
<path d="M33.3,386.3 L32.8,426 L168.4,426 L168.3,387.5" stroke="#168a22" stroke-width="4.4"/><path d="M33.3,386.3 L32.8,426 L168.4,426 L168.3,387.5" stroke="#22bf33" stroke-width="2.9000000000000004"/><circle cx="32.8" cy="426" r="2.4000000000000004" fill="#20a030" stroke="none"/><circle cx="168.4" cy="426" r="2.4000000000000004" fill="#20a030" stroke="none"/>
<circle cx="33.3" cy="386.3" r="3" fill="#33cc33" stroke="#44cc44" stroke-width="1"/>
<circle cx="168.3" cy="387.5" r="3" fill="#30b030" stroke="#3a9a3a" stroke-width="1"/>
<g stroke="none" fill="#1d4a1d"><rect x="38.4" y="219.2" width="7.6" height="7.6"/><rect x="47.9" y="219.2" width="7.6" height="7.6"/><rect x="38.5" y="277.2" width="7.6" height="7.6"/><rect x="47.9" y="277.2" width="7.6" height="7.6"/></g>
<path d="M42.2,223 L42.3,281" stroke="#2c62a8" stroke-width="4.4"/><path d="M42.2,223 L42.3,281" stroke="#4a8ad8" stroke-width="2.9000000000000004"/>
<path d="M51.7,223 L51.7,281" stroke="#168a22" stroke-width="4.4"/><path d="M51.7,223 L51.7,281" stroke="#22bf33" stroke-width="2.9000000000000004"/>
<circle cx="42.2" cy="223" r="2.9" fill="none" stroke="#33aa33" stroke-width="1.1"/>
<circle cx="51.7" cy="223" r="2.9" fill="none" stroke="#33aa33" stroke-width="1.1"/>
<circle cx="42.3" cy="281" r="2.9" fill="none" stroke="#33aa33" stroke-width="1.1"/>
<circle cx="51.7" cy="281" r="2.9" fill="none" stroke="#33aa33" stroke-width="1.1"/>
</g>

<!-- border -->
<rect x="0.5" y="0.5" width="599" height="512" fill="none" stroke="#6ccdf1" stroke-width="1"/>
</svg>
</body></html>
